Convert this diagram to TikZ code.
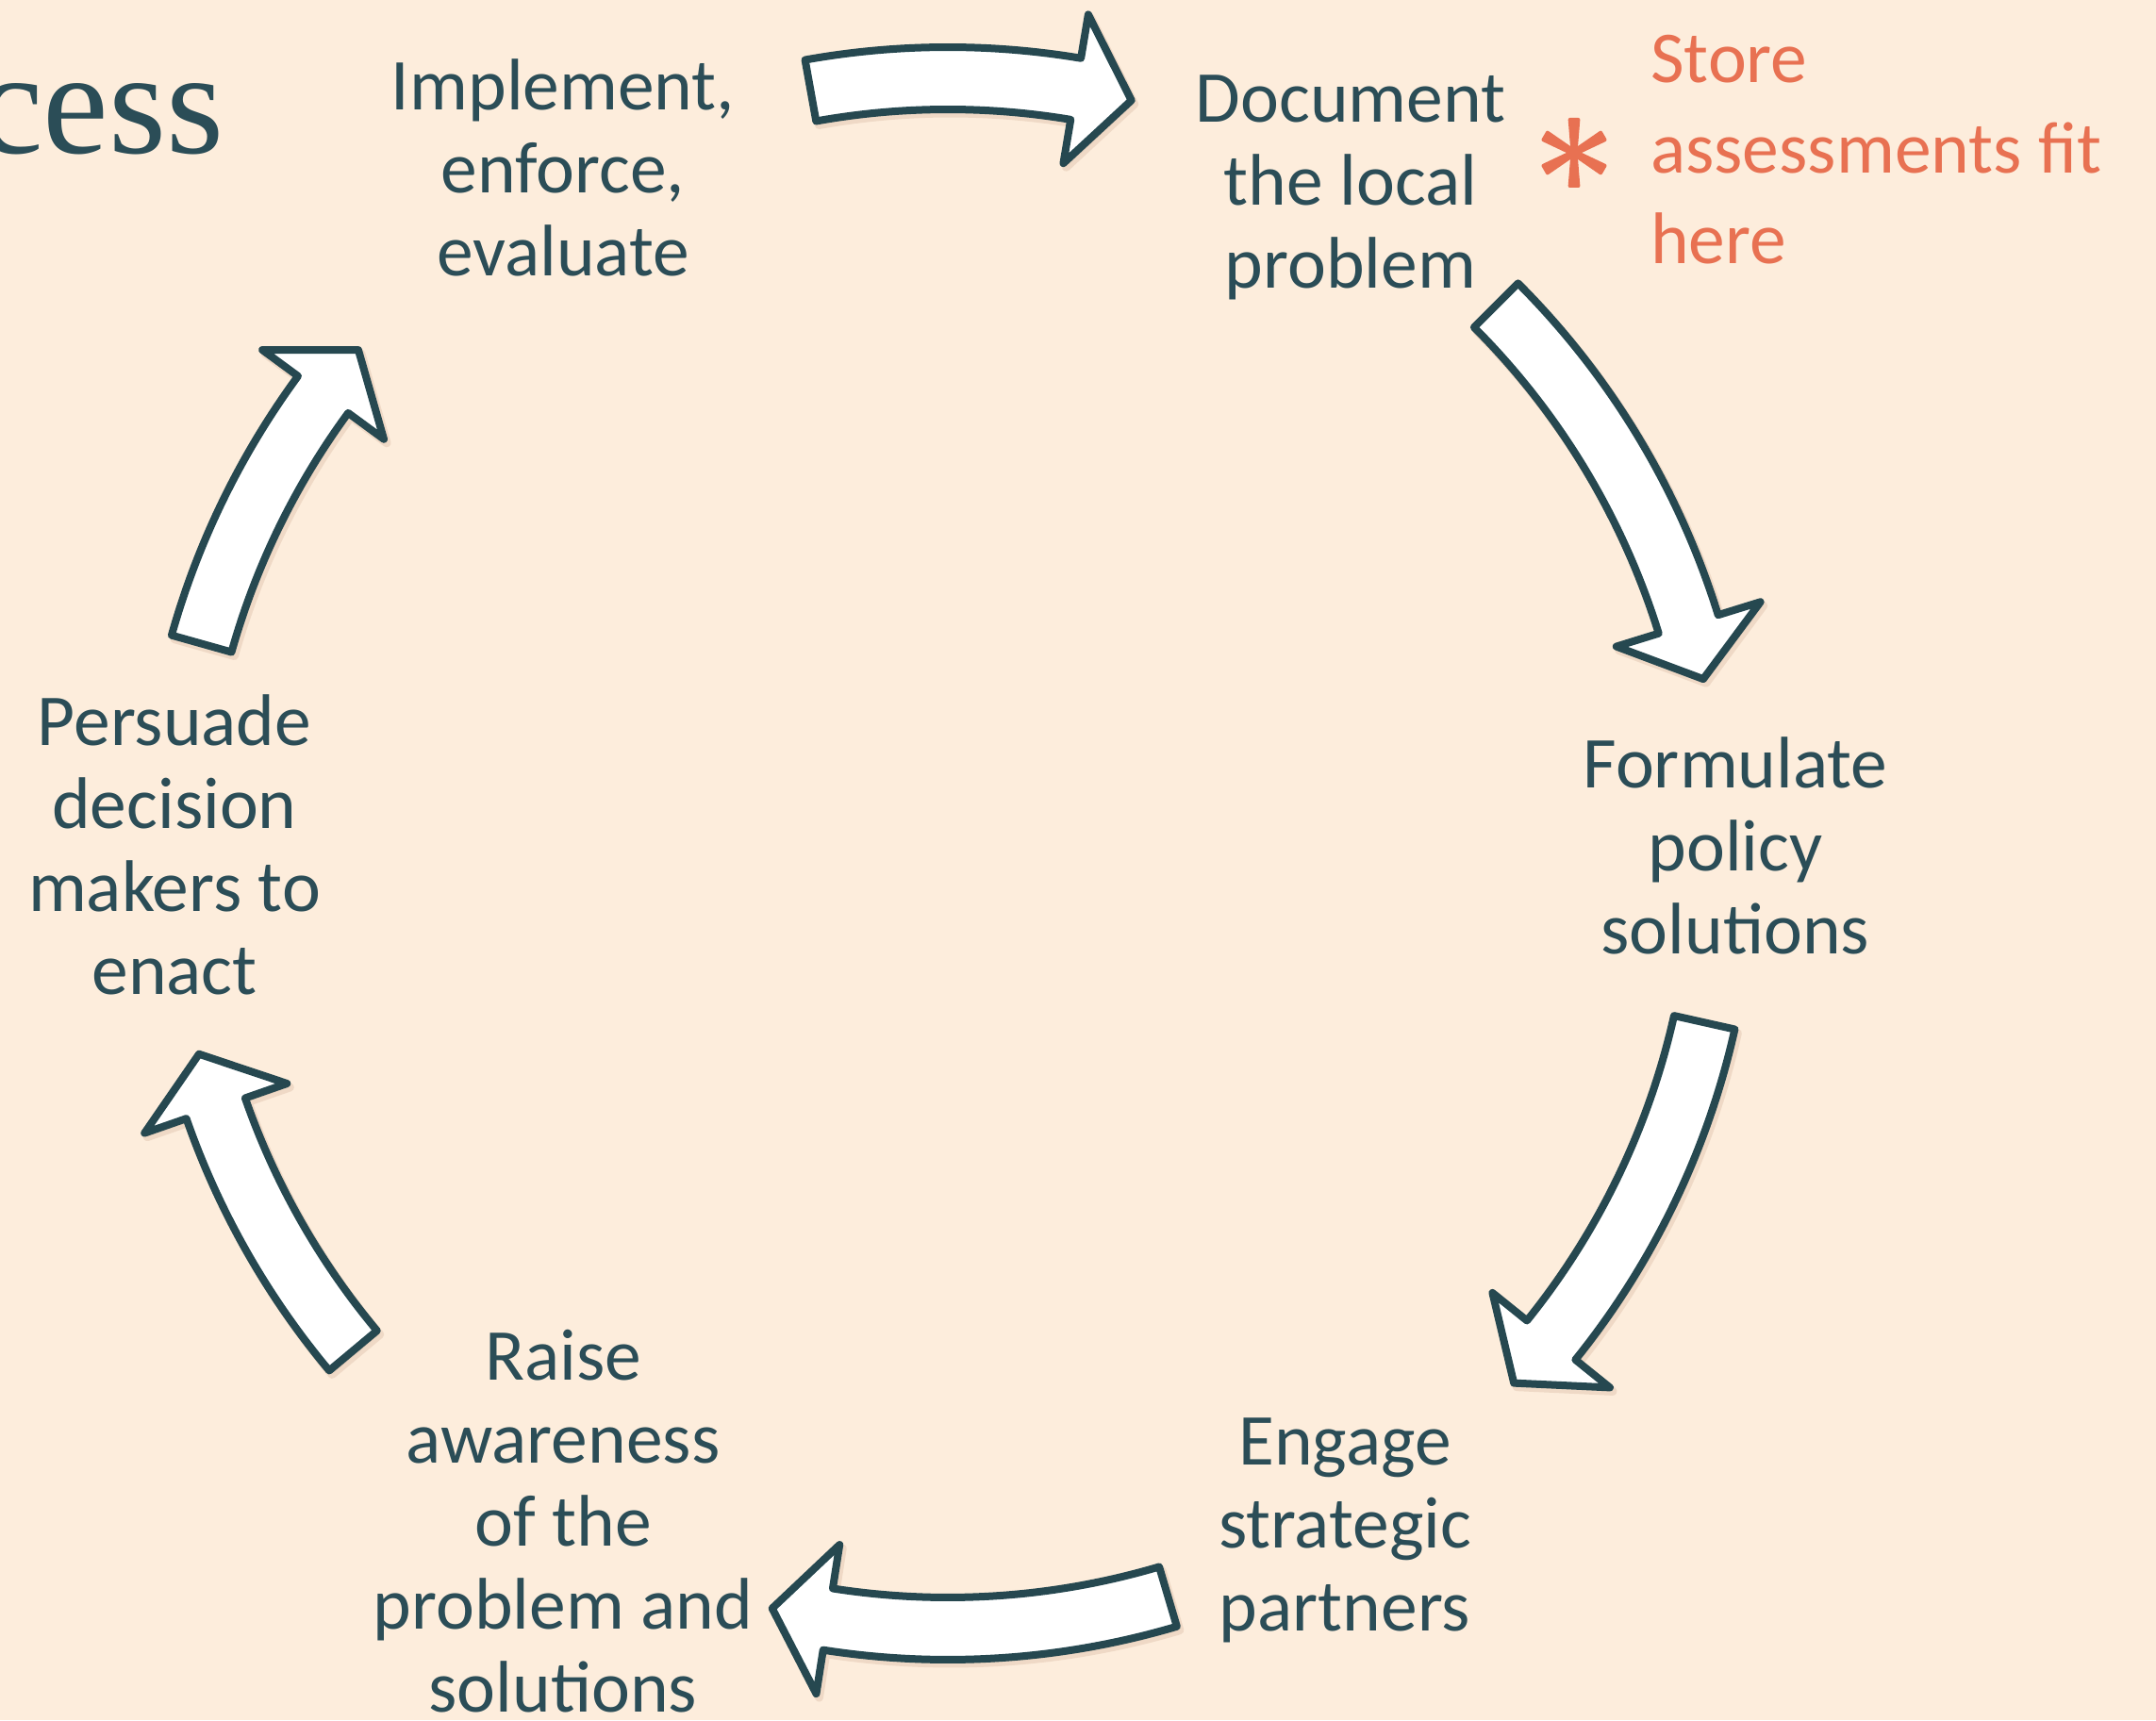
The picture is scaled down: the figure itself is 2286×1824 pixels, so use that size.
\documentclass[tikz,border=0pt]{standalone}
\usepackage{fontspec}
\setmainfont{Carlito}
\newfontfamily\headfont{Liberation Serif}
\usetikzlibrary{positioning}
\definecolor{cream}{HTML}{FDEDDC}
\definecolor{shade}{HTML}{E6CDB8}
\definecolor{slate}{HTML}{264850}
\definecolor{ink}{HTML}{2B4D57}
\definecolor{coral}{HTML}{E87152}

\tikzset{
  % multi-line nodes: base sits on the last line
  stage/.style={font=\fontsize{77.5}{88}\selectfont,text=ink,align=center,
                anchor=base,inner sep=0pt},
  cyclearrow/.style={draw=slate,fill=white,line width=8,line join=round},
  arrowshade/.style={draw=shade,fill=shade,line width=9,line join=round,
                     opacity=0.6},
}

\begin{document}
\begin{tikzpicture}[x=1pt,y=1pt]
  \useasboundingbox (0,0) rectangle (2286,1824);
  \clip (0,0) rectangle (2286,1824);
  \fill[cream] (0,0) rectangle (2286,1824);

  % heading, runs off the left edge
  \node[font=\headfont\fontsize{157}{160}\selectfont,text=ink,
        anchor=base east,inner sep=0pt] (title) at (238,1661) {cess};

  % six curved block arrows on one circle, clockwise
  \coordinate (hub) at (1005,919);
  \foreach \ta/\tb in {100.2/80.5,45/17.2,-12.6/-38.9,-73.5/-98.9,
                       219.9/199.2,164.3/143.7} {
    \foreach \sty/\dx/\dy in {arrowshade/3/-4,cyclearrow/0/0} {
      \draw[\sty,shift={(hub)},xshift=\dx,yshift=\dy]
        (\ta:855) arc[start angle=\ta,end angle=\tb,radius=855]
        -- (\tb:902) -- (\tb-4.2:822) -- (\tb:742) -- (\tb:789)
        arc[start angle=\tb,end angle=\ta,radius=789] -- cycle;
    }
  }

  % steps of the cycle
  \node[stage] (implement) at (597,1531) {Implement,\\enforce,\\evaluate};
  \node[stage] (document)  at (1432,1518) {Document\\the local\\problem};
  \node[stage] (formulate) at (1840,812) {Formulate\\policy\\solutions};
  \node[stage] (engage)    at (1426,95) {Engage\\strategic\\partners};
  \node[stage] (raise)     at (597,9) {Raise\\awareness\\of the\\problem and\\solutions};
  \node[stage] (persuade)  at (185,769) {Persuade\\decision\\makers to\\enact};

  % side note with its asterisk
  \node[font=\fontsize{77.5}{96}\selectfont,text=coral,align=left,
        anchor=base west,inner sep=0pt] (note) at (1750,1544)
        {Store\\assessments fit\\here};
  \coordinate (star) at (1669,1662);
  \foreach \a in {90,30,150} {
    \fill[coral,rounded corners=2,shift={(star)},rotate=\a]
      (-37,-6.5) -- (0,-3.5) -- (37,-6.5) -- (37,6.5) -- (0,3.5) -- (-37,6.5) -- cycle;
  }
\end{tikzpicture}
\end{document}
